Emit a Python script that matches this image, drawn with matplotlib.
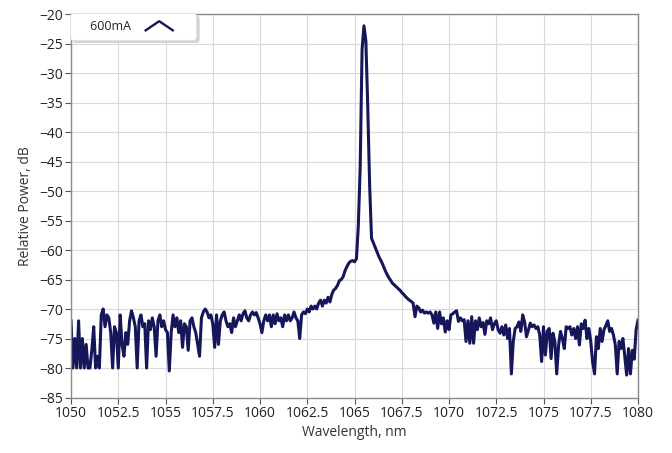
import numpy as np
import matplotlib
matplotlib.use("Agg")
import matplotlib.pyplot as plt
from matplotlib.legend_handler import HandlerBase
from matplotlib.lines import Line2D

# spectrum, 0.1 nm steps from 1050 to 1080 nm
noise_left = [
    -72, -80, -75, -80, -72, -80, -75, -80, -76, -80,
    -80, -77, -73, -80, -78, -80, -71, -70, -73, -71,
    -71.5, -74, -80, -73, -74, -80, -71, -76, -78, -74,
    -76, -72, -70.3, -71.5, -73, -80, -72, -71, -73, -72.5,
    -80, -72, -73.5, -71.5, -73, -78, -72, -71, -73, -72,
    -73.5, -74,
    -80.5, -74, -71, -73, -71.5, -74, -72, -76.5, -72.5, -73,
    -77, -72, -71.5, -73, -74, -76, -78, -71.5, -70.5, -70,
    -70.5, -71.5, -71, -72.5, -76.5, -71, -76, -72, -71, -70.5,
    -72, -73, -72.5, -74, -71.5, -73, -72, -71, -72, -70.8,
    -70.3, -71.5, -72, -71, -70.5, -71, -70.6, -71.5, -72.5, -74,
    -72,
]
wing_left = [
    -71, -72, -71, -73, -71, -72.5, -70.8, -72, -71.5, -73,
    -71, -72, -71, -72, -71.5, -70.5, -71.5, -72, -75, -71,
    -70.5, -70.8, -70, -70.5, -69.5, -70, -69.5, -70, -69, -68.5,
    -69.5, -68.5, -69, -68, -68.8, -67.5, -66.8, -66.5, -66, -65.2,
    -65,
]
peak = [-64.5, -63.5, -62.8, -62.2, -61.9, -61.8, -62, -61.5,
        -56, -46, -26, -22, -24.5, -35.6, -49, -58]
wing_right = [-58.8, -59.6, -60.4, -61.2, -61.8, -62.5, -63.3, -64,
              -64.6, -65.1, -65.6, -65.9, -66.2, -66.5]
noise_right = [
    -66.8, -67.2, -67.5, -67.9, -68.2, -68.5, -68.7, -69, -71.3, -69.5,
    -69.8, -70.5, -70.2, -70.7, -70.5, -70.7, -70.5, -71, -72.4, -70.5,
    -73.3, -70.5, -72.5, -71.5, -73.9, -72, -73.5, -71, -70.8, -70.5,
    -70.3, -72.1, -71.5, -72, -71.8, -75.5, -72, -75.8, -71.3, -75.8,
    -72, -73.5, -71.5, -73, -72.3, -74.3, -72, -72.5, -71.5, -73.5,
    -72.5, -72, -73.5,
    -74.1, -73, -74.4, -72.7, -75, -73.3, -81, -75.5, -73.3, -73,
    -72.2, -73.8, -71, -72.2, -74.7, -73.6, -72.4, -73, -72.7, -73.3,
    -73, -74.4, -78.9, -73, -77.8, -73.8, -73.3, -78.4, -74.1, -75.5,
    -81, -76.1, -73.8, -75, -76.7, -73, -73.3,
    -73, -74.4, -73.3, -75, -73, -76.1, -72.5, -73.3, -71.9, -75,
    -73.3, -75.5, -79, -81, -74.7, -76.7, -73.3, -75.5, -73.5, -72.8,
    -72, -73.8, -73.3, -74.4, -76.1, -81, -75.5, -76.7, -75, -78,
    -81.2, -76.7, -81, -77, -78.5, -73.5, -71.9,
]
power_db = noise_left + wing_left + peak + wing_right + noise_right
wavelength = np.linspace(1050, 1080, len(power_db))

x_ticks = [1050, 1052.5, 1055, 1057.5, 1060, 1062.5, 1065, 1067.5,
           1070, 1072.5, 1075, 1077.5, 1080]
x_tick_labels = ['1050', '1052.5', '1055', '1057.5', '1060', '1062.5', '1065',
                 '1067.5', '1070', '1072.5', '1075', '1077.5', '1080']
y_ticks = list(range(-85, -19, 5))

line_color = '#16165a'


class ChevronHandler(HandlerBase):
    # LabVIEW style legend glyph: a small "^" drawn in the left part of the handle box
    def create_artists(self, legend, orig_handle, xdescent, ydescent,
                       width, height, fontsize, trans):
        x0 = -xdescent
        y0 = -ydescent
        w = width * 0.62
        ln = Line2D([x0, x0 + w / 2, x0 + w],
                    [y0 - height * 0.05, y0 + height * 0.95, y0 - height * 0.05],
                    color=orig_handle.get_color(), lw=1.7, transform=trans)
        return [ln]


plt.rcParams['font.family'] = ['Open Sans', 'DejaVu Sans']

fig = plt.figure(figsize=(6.72, 4.53), dpi=100)
ax = fig.add_axes([0.1057, 0.1225, 0.8437, 0.8465])

line, = ax.plot(wavelength, power_db, color=line_color, lw=2.2,
                solid_joinstyle='round', label='    600mA')

ax.set_xlim(1050, 1080)
ax.set_ylim(-85, -20)
ax.set_xticks(x_ticks)
ax.set_xticklabels(x_tick_labels)
ax.set_yticks(y_ticks)
ax.tick_params(labelsize=10, colors='#222222', length=4, width=0.8, pad=2)
ax.tick_params(axis='both', color='#555555')
ax.grid(True, color='#dadada', lw=0.8)
ax.set_axisbelow(True)
for s in ax.spines.values():
    s.set_color('#8a8a8a')
    s.set_linewidth(1.0)

ax.set_xlabel('Wavelength, nm', fontsize=10, color='#333333', labelpad=3)
ax.set_ylabel('Relative Power, dB', fontsize=10, color='#333333', labelpad=4)

leg = ax.legend(handles=[line], loc='upper left', markerfirst=False,
                handler_map={Line2D: ChevronHandler()},
                fontsize=9, handlelength=3.5, handleheight=0.75,
                handletextpad=1.2, borderpad=0.45, borderaxespad=0.0,
                fancybox=True, framealpha=1, edgecolor='#e2e2e2',
                shadow={'color': '#d2d2d2', 'alpha': 1, 'ox': 2, 'oy': -2})
leg.get_frame().set_boxstyle('round,pad=0.1,rounding_size=0.25')
leg.get_frame().set_linewidth(0.8)
for t in leg.get_texts():
    t.set_color('#222222')

fig.savefig('out.png', dpi=100)
